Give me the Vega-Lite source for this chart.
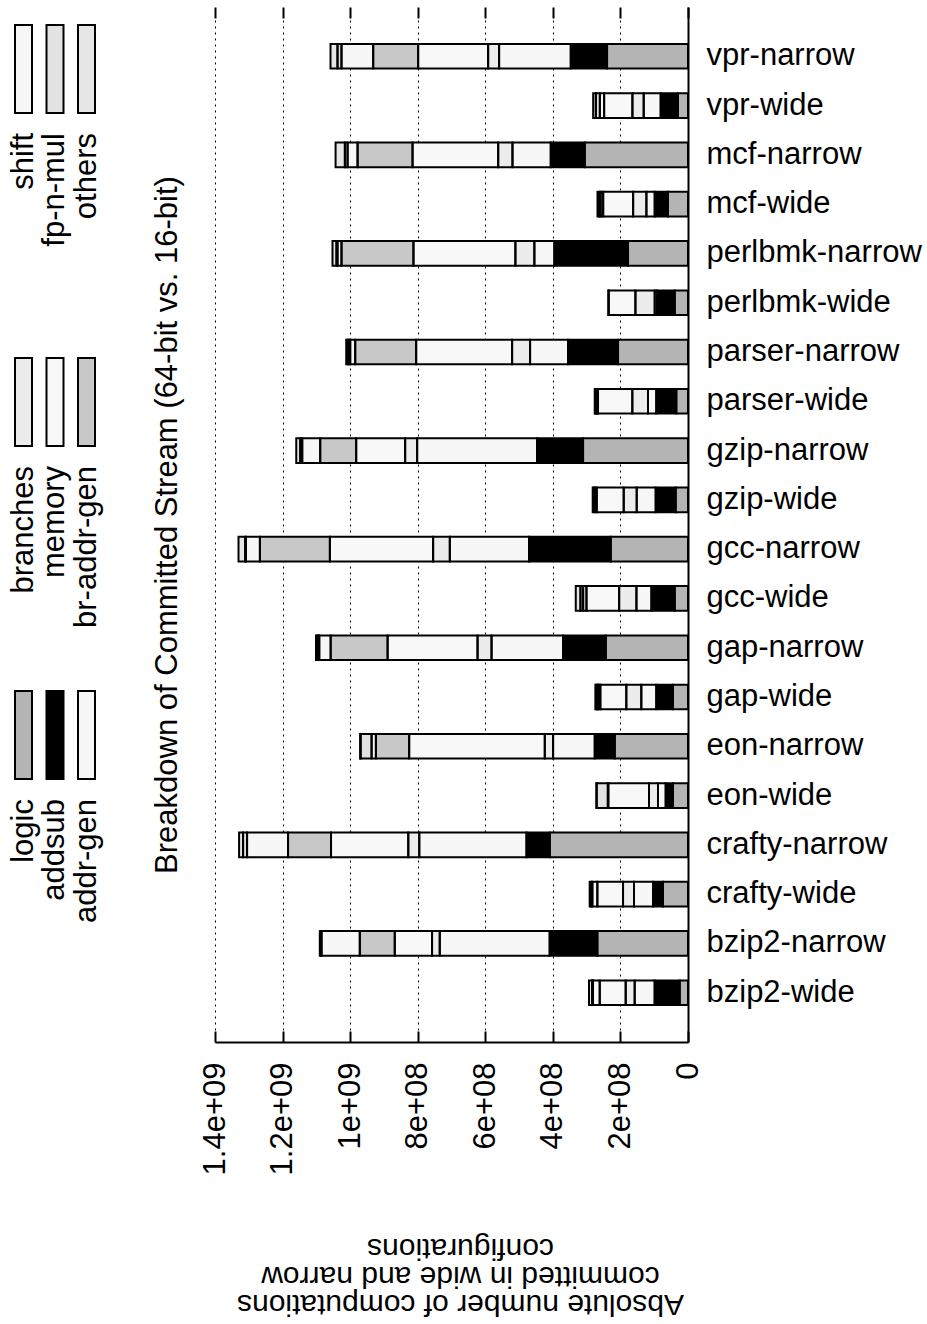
{
  "$schema": "https://vega.github.io/schema/vega-lite/v6.json",
  "width": 473,
  "height": 1035,
  "autosize": {"type": "none"},
  "padding": {"left": 215, "top": 7, "right": 239, "bottom": 282},
  "config": {
    "font": "Liberation Sans",
    "view": {"stroke": null},
    "axis": {
      "labelFontSize": 31,
      "titleFontSize": 31,
      "titleFontWeight": "normal",
      "labelColor": "black",
      "titleColor": "black",
      "domainColor": "black",
      "tickColor": "black",
      "domainWidth": 2,
      "tickWidth": 2,
      "gridColor": "black",
      "gridOpacity": 1,
      "gridDash": [2, 4],
      "gridWidth": 1
    }
  },
  "data": {
    "values": [
      {"bench": "vpr-narrow", "logic": 239600000, "addsub": 107400000, "addr-gen": 212100000, "branches": 32500000, "memory": 207100000, "br-addr-gen": 133100000, "shift": 93800000, "fp-n-mul": 11800000, "others": 20700000},
      {"bench": "vpr-wide", "logic": 29600000, "addsub": 51200000, "addr-gen": 50300000, "branches": 33400000, "memory": 83700000, "br-addr-gen": 0, "shift": 12700000, "fp-n-mul": 11800000, "others": 8000000},
      {"bench": "mcf-narrow", "logic": 305600000, "addsub": 100600000, "addr-gen": 113300000, "branches": 42300000, "memory": 253500000, "br-addr-gen": 162700000, "shift": 29600000, "fp-n-mul": 8000000, "others": 27500000},
      {"bench": "mcf-wide", "logic": 59200000, "addsub": 39300000, "addr-gen": 24600000, "branches": 39300000, "memory": 88700000, "br-addr-gen": 0, "shift": 7400000, "fp-n-mul": 4400000, "others": 5000000},
      {"bench": "perlbmk-narrow", "logic": 177500000, "addsub": 218000000, "addr-gen": 59200000, "branches": 56200000, "memory": 301700000, "br-addr-gen": 213000000, "shift": 11800000, "fp-n-mul": 3000000, "others": 11800000},
      {"bench": "perlbmk-wide", "logic": 39300000, "addsub": 52400000, "addr-gen": 6800000, "branches": 57100000, "memory": 79000000, "br-addr-gen": 0, "shift": 1500000, "fp-n-mul": 0, "others": 0},
      {"bench": "parser-narrow", "logic": 207100000, "addsub": 147900000, "addr-gen": 112400000, "branches": 53200000, "memory": 284000000, "br-addr-gen": 180400000, "shift": 14800000, "fp-n-mul": 5900000, "others": 5900000},
      {"bench": "parser-wide", "logic": 34600000, "addsub": 59200000, "addr-gen": 24600000, "branches": 46400000, "memory": 101500000, "br-addr-gen": 0, "shift": 3800000, "fp-n-mul": 3000000, "others": 3000000},
      {"bench": "gzip-narrow", "logic": 310600000, "addsub": 136100000, "addr-gen": 355000000, "branches": 35500000, "memory": 144900000, "br-addr-gen": 106500000, "shift": 53200000, "fp-n-mul": 5900000, "others": 11800000},
      {"bench": "gzip-wide", "logic": 36400000, "addsub": 59200000, "addr-gen": 56200000, "branches": 38500000, "memory": 79900000, "br-addr-gen": 0, "shift": 5900000, "fp-n-mul": 3000000, "others": 3000000},
      {"bench": "gcc-narrow", "logic": 228700000, "addsub": 241700000, "addr-gen": 234600000, "branches": 49400000, "memory": 305600000, "br-addr-gen": 207100000, "shift": 41400000, "fp-n-mul": 2100000, "others": 19800000},
      {"bench": "gcc-wide", "logic": 39300000, "addsub": 68900000, "addr-gen": 44400000, "branches": 51200000, "memory": 96700000, "br-addr-gen": 0, "shift": 9800000, "fp-n-mul": 8000000, "others": 13900000},
      {"bench": "gap-narrow", "logic": 243400000, "addsub": 126300000, "addr-gen": 211800000, "branches": 41400000, "memory": 266200000, "br-addr-gen": 168600000, "shift": 33700000, "fp-n-mul": 3800000, "others": 5900000},
      {"bench": "gap-wide", "logic": 44400000, "addsub": 49400000, "addr-gen": 44400000, "branches": 44400000, "memory": 76900000, "br-addr-gen": 0, "shift": 5900000, "fp-n-mul": 4400000, "others": 4400000},
      {"bench": "eon-narrow", "logic": 216800000, "addsub": 59200000, "addr-gen": 123300000, "branches": 24600000, "memory": 401400000, "br-addr-gen": 98500000, "shift": 12700000, "fp-n-mul": 32500000, "others": 1500000},
      {"bench": "eon-wide", "logic": 44400000, "addsub": 21600000, "addr-gen": 22800000, "branches": 26600000, "memory": 120400000, "br-addr-gen": 0, "shift": 1500000, "fp-n-mul": 33100000, "others": 900000},
      {"bench": "crafty-narrow", "logic": 409100000, "addsub": 68900000, "addr-gen": 317400000, "branches": 32500000, "memory": 228700000, "br-addr-gen": 127200000, "shift": 121300000, "fp-n-mul": 11800000, "others": 11800000},
      {"bench": "crafty-wide", "logic": 74000000, "addsub": 29600000, "addr-gen": 56200000, "branches": 32500000, "memory": 76000000, "br-addr-gen": 0, "shift": 14800000, "fp-n-mul": 3800000, "others": 4100000},
      {"bench": "bzip2-narrow", "logic": 268300000, "addsub": 141100000, "addr-gen": 325400000, "branches": 22800000, "memory": 110300000, "br-addr-gen": 103500000, "shift": 113300000, "fp-n-mul": 2100000, "others": 3000000},
      {"bench": "bzip2-wide", "logic": 24600000, "addsub": 74000000, "addr-gen": 59200000, "branches": 26600000, "memory": 76900000, "br-addr-gen": 0, "shift": 19800000, "fp-n-mul": 3000000, "others": 8900000}
    ]
  },
  "transform": [
    {"fold": ["logic", "addsub", "addr-gen", "branches", "memory", "br-addr-gen", "shift", "fp-n-mul", "others"], "as": ["category", "count"]},
    {"filter": "datum.count > 0"},
    {"stack": "count", "groupby": ["bench"], "as": ["start", "end"]}
  ],
  "resolve": {"axis": {"x": "independent", "y": "independent"}},
  "layer": [
    {
      "mark": {"type": "bar", "strokeWidth": 0},
      "encoding": {
        "y": {
          "field": "bench", "type": "nominal",
          "sort": ["vpr-narrow", "vpr-wide", "mcf-narrow", "mcf-wide", "perlbmk-narrow", "perlbmk-wide", "parser-narrow", "parser-wide", "gzip-narrow", "gzip-wide", "gcc-narrow", "gcc-wide", "gap-narrow", "gap-wide", "eon-narrow", "eon-wide", "crafty-narrow", "crafty-wide", "bzip2-narrow", "bzip2-wide"],
          "scale": {"paddingInner": 0.5, "paddingOuter": 0.75},
          "axis": {"orient": "right", "title": null, "ticks": false, "labelPadding": 18, "labelLimit": 400, "grid": false}
        },
        "x": {
          "field": "start", "type": "quantitative",
          "scale": {"domain": [0, 1400000000], "reverse": true, "nice": false},
          "axis": {
            "orient": "bottom",
            "values": [0, 200000000, 400000000, 600000000, 800000000, 1000000000, 1200000000, 1400000000],
            "labelExpr": "datum.value == 0 ? '0' : datum.value < 1000000000 ? (datum.value / 100000000) + 'e+08' : (datum.value / 1000000000) + 'e+09'",
            "labelAngle": -90,
            "labelFlush": false,
            "labelOverlap": false,
            "tickSize": -11,
            "labelPadding": 31,
            "grid": true,
            "title": ["Absolute number of computations", "committed in wide and narrow", "configurations"],
            "titleAngle": 180,
            "titleBaseline": "bottom",
            "titleAlign": "center",
            "titleFontSize": 30,
            "titleX": 245,
            "titleY": 246,
            "titleLineHeight": 28
          }
        },
        "x2": {"field": "end"},
        "fill": {
          "field": "category", "type": "nominal",
          "scale": {
            "domain": ["shift", "fp-n-mul", "others", "branches", "memory", "br-addr-gen", "logic", "addsub", "addr-gen"],
            "range": ["#f7f7f7", "#e2e2e2", "#e6e6e6", "#ececec", "#f8f8f8", "#c8c8c8", "#b4b4b4", "#000000", "#f7f7f7"]
          },
          "legend": {
            "orient": "none", "legendX": -201.5, "legendY": 18,
            "title": null, "direction": "horizontal", "columns": 3,
            "symbolType": "M-0.654,-3.385H0.654V3.385H-0.654ZM0,20",
            "symbolSize": 676,
            "symbolStrokeColor": "black", "symbolStrokeWidth": 2, "symbolOpacity": 1,
            "labelFontSize": 31, "labelLimit": 400, "labelColor": "black",
            "columnPadding": -0.5, "rowPadding": 20, "gridAlign": "all",
            "encode": {
              "symbols": {"update": {"x": {"value": 10}, "y": {"value": 44}, "stroke": {"value": "black"}, "strokeWidth": {"value": 2}}},
              "labels": {"update": {"x": {"value": 10}, "y": {"value": 108}, "angle": {"value": -90}, "align": {"value": "right"}, "baseline": {"value": "middle"}}}
            }
          }
        }
      }
    },
    {
      "mark": {"type": "bar", "filled": false, "color": "black", "strokeWidth": 2},
      "encoding": {
        "y": {
          "field": "bench", "type": "nominal",
          "sort": ["vpr-narrow", "vpr-wide", "mcf-narrow", "mcf-wide", "perlbmk-narrow", "perlbmk-wide", "parser-narrow", "parser-wide", "gzip-narrow", "gzip-wide", "gcc-narrow", "gcc-wide", "gap-narrow", "gap-wide", "eon-narrow", "eon-wide", "crafty-narrow", "crafty-wide", "bzip2-narrow", "bzip2-wide"],
          "scale": {"paddingInner": 0.5, "paddingOuter": 0.75},
          "axis": {"orient": "left", "labels": false, "ticks": false, "domain": false, "grid": false, "title": "Breakdown of Committed Stream (64-bit vs. 16-bit)", "titlePadding": 32}
        },
        "x": {
          "field": "start", "type": "quantitative",
          "scale": {"domain": [0, 1400000000], "reverse": true, "nice": false},
          "axis": {"orient": "top", "values": [0, 200000000, 400000000, 600000000, 800000000, 1000000000, 1200000000, 1400000000], "labels": false, "domain": false, "grid": false, "tickSize": -11, "title": null}
        },
        "x2": {"field": "end"}
      }
    }
  ]
}
